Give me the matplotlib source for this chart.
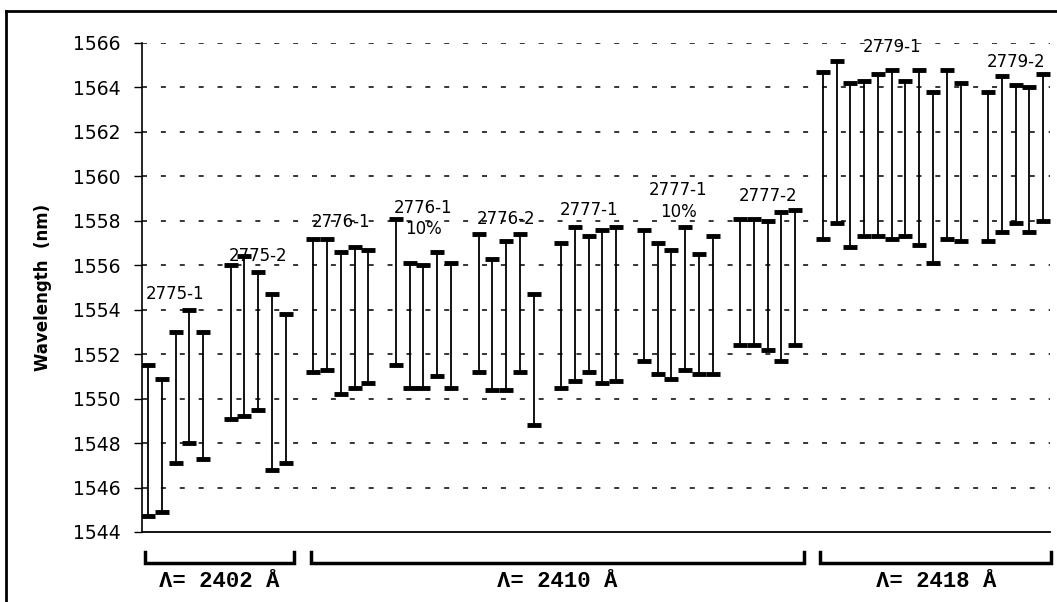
import numpy as np
import matplotlib.pyplot as plt
from matplotlib.lines import Line2D
from matplotlib.transforms import blended_transform_factory

# Wavelength ranges (nm) for each device, grouped by sample
groups = ["2775-1", "2775-2", "2776-1", "2776-1\n10%", "2776-2",
          "2777-1", "2777-1\n10%", "2777-2", "2779-1", "2779-2"]

tops = [
    [1551.5, 1550.9, 1553.0, 1554.0, 1553.0],
    [1556.0, 1556.4, 1555.7, 1554.7, 1553.8],
    [1557.2, 1557.2, 1556.6, 1556.8, 1556.7],
    [1558.1, 1556.1, 1556.0, 1556.6, 1556.1],
    [1557.4, 1556.3, 1557.1, 1557.4, 1554.7],
    [1557.0, 1557.7, 1557.3, 1557.6, 1557.7],
    [1557.6, 1557.0, 1556.7, 1557.7, 1556.5, 1557.3],
    [1558.1, 1558.1, 1558.0, 1558.4, 1558.5],
    [1564.7, 1565.2, 1564.2, 1564.3, 1564.6, 1564.8, 1564.3, 1564.8, 1563.8, 1564.8, 1564.2],
    [1563.8, 1564.5, 1564.1, 1564.0, 1564.6],
]
bottoms = [
    [1544.7, 1544.9, 1547.1, 1548.0, 1547.3],
    [1549.1, 1549.2, 1549.5, 1546.8, 1547.1],
    [1551.2, 1551.3, 1550.2, 1550.5, 1550.7],
    [1551.5, 1550.5, 1550.5, 1551.0, 1550.5],
    [1551.2, 1550.4, 1550.4, 1551.2, 1548.8],
    [1550.5, 1550.8, 1551.2, 1550.7, 1550.8],
    [1551.7, 1551.1, 1550.9, 1551.3, 1551.1, 1551.1],
    [1552.4, 1552.4, 1552.2, 1551.7, 1552.4],
    [1557.2, 1557.9, 1556.8, 1557.3, 1557.3, 1557.2, 1557.3, 1556.9, 1556.1, 1557.2, 1557.1],
    [1557.1, 1557.5, 1557.9, 1557.5, 1558.0],
]
label_y = [1554.7, 1556.4, 1557.95, 1558.1, 1558.1, 1558.5, 1558.9, 1559.1, 1565.8, 1565.15]

# grating period sections (index of first and last group in each)
periods = ["\u039b= 2402 \u00c5", "\u039b= 2410 \u00c5", "\u039b= 2418 \u00c5"]
period_groups = [(0, 1), (2, 7), (8, 9)]

plt.rcParams['lines.scale_dashes'] = False

fig = plt.figure(figsize=(10.57, 6.02), dpi=100)
ax = fig.add_axes([0.1339, 0.1163, 0.8595, 0.8123])

# slot positions: one empty slot between groups
xs, starts, ends = [], [], []
pos = 0
for t in tops:
    idx = np.arange(pos, pos + len(t))
    xs.append(idx)
    starts.append(idx[0])
    ends.append(idx[-1])
    pos += len(t) + 1

for x, t, b in zip(xs, tops, bottoms):
    ax.vlines(x, b, t, color='black', lw=1.3, zorder=3)
    ax.plot(x, t, ls='none', marker='_', ms=10, mew=3.5, color='black', zorder=4)
    ax.plot(x, b, ls='none', marker='_', ms=10, mew=3.5, color='black', zorder=4)

for x, name, ly in zip(xs, groups, label_y):
    ax.text(x.mean(), ly, name, ha='center', va='center', fontsize=12,
            linespacing=1.25, zorder=5)

ax.set_xlim(-0.47, 65.5)
ax.set_ylim(1544, 1566)
ax.set_yticks(np.arange(1544, 1567, 2))
ax.tick_params(axis='y', direction='out', length=6, width=1, pad=9, labelsize=13.5)
ax.set_xticks([])
ax.yaxis.grid(True, color='black', lw=1.1, linestyle=(0, (3.6, 10)))
for g in ax.get_ygridlines()[:1]:
    g.set_visible(False)
for s in ['top', 'right']:
    ax.spines[s].set_visible(False)
ax.spines['left'].set_linewidth(1.2)
ax.spines['bottom'].set_linewidth(1.3)

fig.text(43 / 1057, 0.5224, "Wavelength  (nm)", rotation=90, ha='center', va='center',
         fontsize=12, fontweight='bold')

# brackets for grating periods
tr = blended_transform_factory(ax.transData, ax.transAxes)
for name, (g0, g1) in zip(periods, period_groups):
    x0 = starts[g0] - 0.2
    x1 = ends[g1] + 0.6
    ax.plot([x0, x0, x1, x1], [-0.041, -0.063, -0.063, -0.041], color='black',
            lw=2.5, transform=tr, clip_on=False, solid_joinstyle='miter')
    ax.text((x0 + x1) / 2, -0.102, name, transform=tr, ha='center', va='center',
            fontsize=16, fontweight='bold', family=['Liberation Mono', 'DejaVu Sans Mono'])

# outer frame (left and top edges)
fig.add_artist(Line2D([6 / 1057, 6 / 1057], [0, 1 - 11 / 602], color='black', lw=2))
fig.add_artist(Line2D([6 / 1057, 1], [1 - 11 / 602, 1 - 11 / 602], color='black', lw=2))

fig.savefig('out.png', dpi=100)
